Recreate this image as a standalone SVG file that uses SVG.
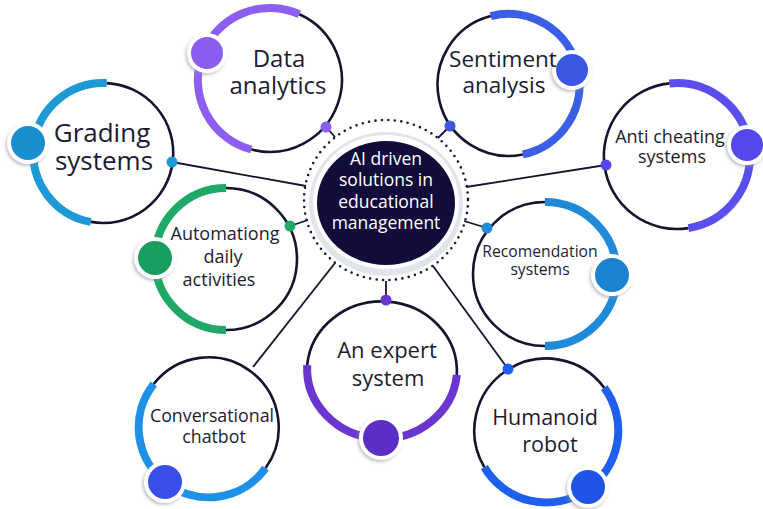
<svg xmlns="http://www.w3.org/2000/svg" width="763" height="509" viewBox="0 0 763 509">
<defs>
<filter id="sh" x="-40%" y="-40%" width="180%" height="180%">
<feDropShadow dx="-1.5" dy="2" stdDeviation="1.6" flood-color="#8e94a6" flood-opacity="0.55"/>
</filter>
<style>
.ring{fill:none;stroke:#15132e;stroke-width:2.6}
.arc{fill:none;stroke-width:8}
.label{font-family:"Open Sans","Noto Sans",sans-serif;fill:#1d1b33;text-anchor:middle}
.halo{fill:#ffffff;filter:url(#sh)}
.conn{stroke:#15132e;stroke-width:1.8;fill:none}
.ctext{font-family:"Open Sans","Noto Sans",sans-serif;fill:#ffffff;text-anchor:middle;font-size:17.5px}
</style>
</defs>
<rect width="763" height="509" fill="#ffffff"/>

<g id="connectors">
<line class="conn" x1="172" y1="162" x2="306" y2="186"/>
<line class="conn" x1="326" y1="127" x2="335" y2="137"/>
<line class="conn" x1="450" y1="126" x2="438" y2="138"/>
<line class="conn" x1="606" y1="165" x2="466" y2="187"/>
<line class="conn" x1="290" y1="226" x2="308" y2="220"/>
<line class="conn" x1="487" y1="228" x2="464" y2="221"/>
<line class="conn" x1="386" y1="300" x2="386" y2="281"/>
<line class="conn" x1="253" y1="367" x2="335" y2="263"/>
<line class="conn" x1="508" y1="369" x2="433" y2="266"/>
</g>

<g id="center">
<ellipse cx="386" cy="200" rx="82" ry="80" fill="none" stroke="#1a1838" stroke-width="2.6" stroke-dasharray="0 6.5" stroke-linecap="round"/>
<ellipse cx="386" cy="204" rx="77" ry="72" fill="#e1e5e9"/>
<ellipse cx="386" cy="202" rx="73" ry="67" fill="#ffffff"/>
<ellipse cx="386" cy="203" rx="69" ry="62" fill="#120c3a"/>
<text class="ctext" x="386" y="165">AI driven</text>
<text class="ctext" x="386" y="186">solutions in</text>
<text class="ctext" x="386" y="208">educational</text>
<text class="ctext" x="386" y="229">management</text>
</g>

<g id="node-data-analytics">
<path class="arc" stroke="#8c5ff2" d="M251.4 149.5 A72 72 0 1 1 299.3 14.2"/>
<path class="ring" d="M299.3 14.2 A72 72 0 0 1 251.4 149.5"/>
<circle class="halo" cx="207" cy="53" r="20"/>
<circle cx="207" cy="53" r="16" fill="#8a5cf0"/>
<circle cx="326" cy="127" r="5.5" fill="#8c5ff2"/>
<text class="label" font-size="24" x="279" y="67">Data</text>
<text class="label" font-size="24" x="278" y="94">analytics</text>
</g>

<g id="node-sentiment-analysis">
<path class="arc" stroke="#3a5ee6" d="M490.8 16.1 A71 71 0 1 1 522.8 154.4"/>
<path class="ring" d="M522.8 154.4 A71 71 0 0 1 490.8 16.1"/>
<circle class="halo" cx="572" cy="70" r="20"/>
<circle cx="572" cy="70" r="16" fill="#3a56e2"/>
<circle cx="450" cy="126" r="5.5" fill="#3a56e2"/>
<text class="label" font-size="22.5" x="503" y="67">Sentiment</text>
<text class="label" font-size="22.5" x="504" y="93">analysis</text>
</g>

<g id="node-grading-systems">
<path class="arc" stroke="#1d9ad6" d="M90.8 221.9 A70 70 0 0 1 106.7 83.1"/>
<path class="ring" d="M106.7 83.1 A70 70 0 1 1 90.8 221.9"/>
<circle class="halo" cx="28" cy="143" r="21"/>
<circle cx="28" cy="143" r="17" fill="#1a8fd0"/>
<circle cx="172" cy="162" r="5.5" fill="#1d9ad6"/>
<text class="label" font-size="26" x="102" y="142">Grading</text>
<text class="label" font-size="26" x="104" y="170">systems</text>
</g>

<g id="node-anti-cheating">
<path class="arc" stroke="#5b4ef0" d="M669.4 83.4 A73 73 0 0 1 688.4 228.1"/>
<path class="ring" d="M688.4 228.1 A73 73 0 1 1 669.4 83.4"/>
<circle class="halo" cx="747" cy="145" r="20"/>
<circle cx="747" cy="145" r="16" fill="#5548ea"/>
<circle cx="606" cy="165" r="5.5" fill="#5548ea"/>
<text class="label" font-size="18" x="670" y="143">Anti cheating</text>
<text class="label" font-size="18" x="672" y="163">systems</text>
</g>

<g id="node-automating">
<path class="arc" stroke="#1fa868" d="M226 330 A71 71 0 0 1 226 188"/>
<path class="ring" d="M226 188 A71 71 0 0 1 226 330"/>
<circle class="halo" cx="155" cy="258" r="21"/>
<circle cx="155" cy="258" r="17" fill="#1a9e60"/>
<circle cx="290" cy="226" r="5.5" fill="#1fa868"/>
<text class="label" font-size="18" x="225" y="240">Automationg</text>
<text class="label" font-size="18" x="223" y="263">daily</text>
<text class="label" font-size="18" x="219" y="286">activities</text>
</g>

<g id="node-recomendation">
<path class="arc" stroke="#1e8ad8" d="M545 202 A72 72 0 0 1 545 346"/>
<path class="ring" d="M545 346 A72 72 0 0 1 545 202"/>
<circle class="halo" cx="612" cy="275" r="21"/>
<circle cx="612" cy="275" r="17" fill="#1a82d2"/>
<circle cx="487" cy="228" r="5.5" fill="#1e8ad8"/>
<text class="label" font-size="15.7" x="540" y="257">Recomendation</text>
<text class="label" font-size="15.7" x="540" y="275">systems</text>
</g>

<g id="node-expert-system">
<path class="arc" stroke="#6a35d0" d="M456.8 374.9 A75 70 0 0 1 307.2 365.1"/>
<path class="ring" d="M307.2 365.1 A75 70 0 0 1 456.8 374.9"/>
<circle class="halo" cx="381" cy="438" r="22"/>
<circle cx="381" cy="438" r="18" fill="#5b2ec5"/>
<circle cx="386" cy="300" r="5.5" fill="#6a35d0"/>
<text class="label" font-size="22" x="387" y="358">An expert</text>
<text class="label" font-size="22" x="388" y="386">system</text>
</g>

<g id="node-conversational-chatbot">
<path class="arc" stroke="#1e90e8" d="M265.6 468.1 A70 70 0 1 1 153.8 383.9"/>
<path class="ring" d="M153.8 383.9 A70 70 0 0 1 265.6 468.1"/>
<circle class="halo" cx="165" cy="482" r="21"/>
<circle cx="165" cy="482" r="17" fill="#3a4ee8"/>
<text class="label" font-size="17.8" x="212" y="422">Conversational</text>
<text class="label" font-size="17.8" x="214" y="443">chatbot</text>
</g>

<g id="node-humanoid-robot">
<path class="arc" stroke="#1f5ff0" d="M604.2 387.7 A72 72 0 1 1 484.3 467.1"/>
<path class="ring" d="M484.3 467.1 A72 72 0 0 1 604.2 387.7"/>
<circle class="halo" cx="588" cy="487" r="21"/>
<circle cx="588" cy="487" r="17" fill="#1e55e8"/>
<circle cx="508" cy="369" r="5.5" fill="#1f5ff0"/>
<text class="label" font-size="21.5" x="545" y="425">Humanoid</text>
<text class="label" font-size="21.5" x="550" y="452">robot</text>
</g>
</svg>
